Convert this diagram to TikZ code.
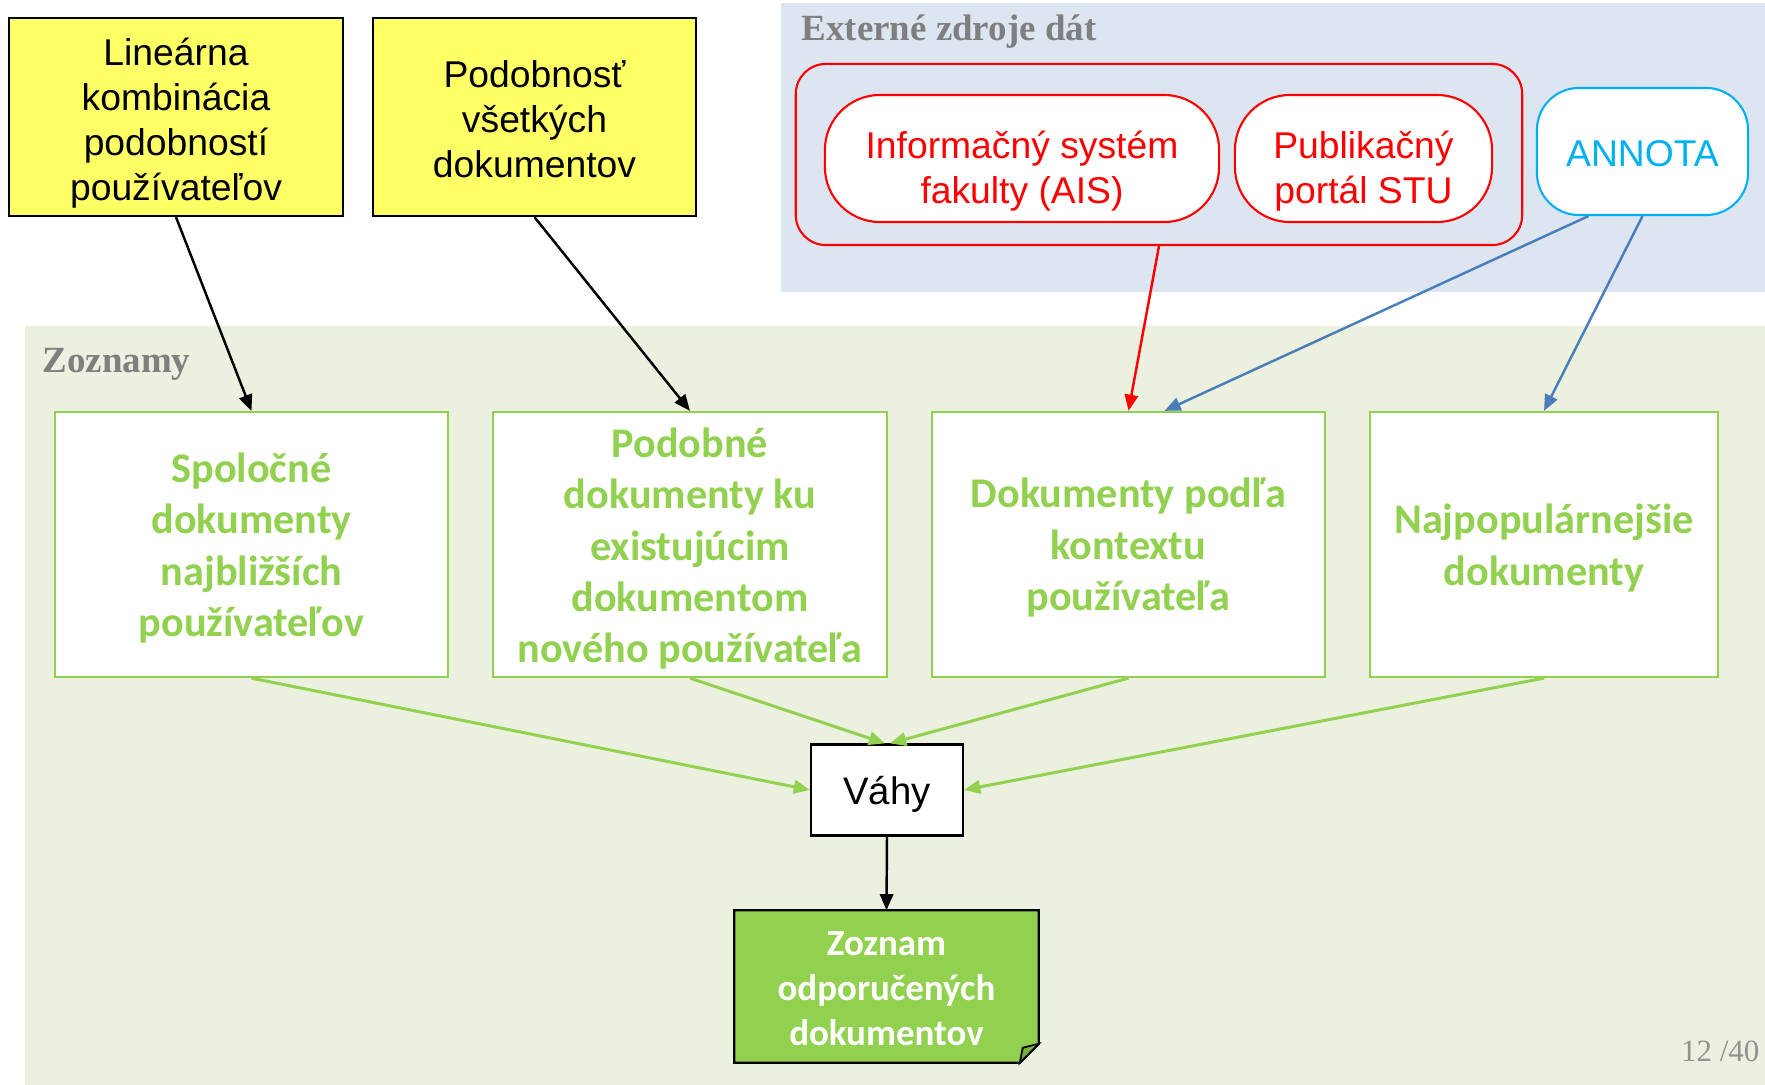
\documentclass[tikz,border=0pt]{standalone}
\usepackage{fontspec}
\setmainfont{Liberation Sans}
\newfontfamily\calibri{Carlito}
\newfontfamily\timesfont{Liberation Serif}
\usepackage{xcolor}
\definecolor{lemon}{HTML}{FFFF66}
\definecolor{leaf}{HTML}{92D050}
\definecolor{leafdark}{HTML}{74B03A}
\definecolor{listbg}{HTML}{EBF0DF}
\definecolor{extbg}{HTML}{DCE5F0}
\definecolor{sky}{HTML}{00B0F0}
\definecolor{steel}{HTML}{4A7EBB}
\definecolor{slate}{HTML}{7F7F7F}
\usepackage{tikz}
\usetikzlibrary{arrows.meta, positioning, calc}
% lines of a box, set a little lower than the centre
\newcommand{\boxtext}[2]{\raisebox{-#1}[\height][\depth]{\begin{tabular}{@{}c@{}}#2\end{tabular}}}

\begin{document}
\begin{tikzpicture}[x=0.01cm, y=-0.01cm,
  tip/.style={-{Triangle[length=4.6pt,width=3.8pt]}},
  yellowbox/.style={draw=black, line width=0.6pt, fill=lemon,
    font=\fontsize{10.6}{12.8}\selectfont, minimum height=1.98cm, inner sep=0pt},
  pill/.style={draw=red, line width=0.6pt, fill=white, text=red,
    font=\fontsize{10.6}{12.8}\selectfont, minimum height=1.27cm, rounded corners=0.55cm, inner sep=0pt},
  listbox/.style={draw=leaf, line width=0.6pt, fill=white, text=leaf,
    font=\calibri\bfseries\fontsize{12}{14.6}\selectfont, minimum height=2.65cm, inner sep=0pt},
  region/.style={font=\timesfont\bfseries\fontsize{10.5}{12}\selectfont, text=slate, anchor=west, inner sep=0pt}
]
  \useasboundingbox (0,0) rectangle (1765,1085);
  \fill[white] (0,0) rectangle (1765,1085);

  % --- Externe zdroje (top right) ---
  \fill[extbg] (781,3) rectangle (1765,292);
  \node[region] (extlabel) at (801,32) {Externé zdroje dát};
  \node[draw=red, line width=0.6pt, rounded corners=0.3cm, minimum width=7.26cm, minimum height=1.81cm] (fei) at (1159,154.5) {};
  \node[pill, minimum width=3.94cm] (ais) at (1022,158.5) {\boxtext{3.8pt}{Informačný systém\\fakulty (AIS)}};
  \node[pill, minimum width=2.57cm] (stu) at (1363.5,158.5) {\boxtext{3.8pt}{Publikačný\\portál STU}};
  \node[pill, draw=sky, text=sky, minimum width=2.11cm, rounded corners=0.42cm] (annota) at (1642.5,151.5) {\boxtext{1.8pt}{ANNOTA}};

  % --- Zoznamy (bottom) ---
  \fill[listbg] (25,326) rectangle (1765,1085);
  \node[region] (listlabel) at (42,364) {Zoznamy};

  % Podobnosti (yellow)
  \node[yellowbox, minimum width=3.34cm] (lin) at (176,117) {\boxtext{1.9pt}{Lineárna\\kombinácia\\podobností\\používateľov}};
  \node[yellowbox, minimum width=3.23cm] (pod) at (534.5,117) {\boxtext{1.9pt}{Podobnosť\\všetkých\\dokumentov}};

  % Zoznamy dokumentov
  \node[listbox, minimum width=3.93cm] (b1) at (251.5,544.5) {\boxtext{1.3pt}{Spoločné\\dokumenty\\najbližších\\používateľov}};
  \node[listbox, minimum width=3.94cm] (b2) at (690,544.5) {\boxtext{1.5pt}{Podobné\\dokumenty ku\\existujúcim\\dokumentom\\nového používateľa}};
  \node[listbox, minimum width=3.93cm] (b3) at (1128.5,544.5) {\boxtext{1.3pt}{Dokumenty podľa\\kontextu\\používateľa}};
  \node[listbox, minimum width=3.48cm] (b4) at (1544,544.5) {\boxtext{1.3pt}{Najpopulárnejšie\\dokumenty}};

  % Vahy and result
  \node[draw=black, line width=0.6pt, fill=white, font=\fontsize{10.9}{12.8}\selectfont,
    minimum width=1.52cm, minimum height=0.91cm, inner sep=0pt] (vahy) at (887,790) {\boxtext{1.7pt}{Váhy}};
  \node[fill=leaf, text=white, font=\calibri\bfseries\fontsize{10.5}{12.8}\selectfont,
    minimum width=3.03cm, minimum height=1.51cm, inner sep=0pt] (zoz) at (886.5,986.5) {\boxtext{1.5pt}{Zoznam\\odporučených\\dokumentov}};
  % folded corner
  \fill[listbg] ([xshift=-0.19cm]zoz.south east) -- (zoz.south east) -- ([yshift=0.19cm]zoz.south east) -- cycle;
  \draw[line width=0.6pt] (zoz.north west) -- (zoz.north east) -- ([yshift=0.19cm]zoz.south east)
    -- ([xshift=-0.19cm]zoz.south east) -- (zoz.south west) -- cycle;
  \filldraw[fill=leafdark, line width=0.5pt] ([xshift=-0.19cm]zoz.south east) -- ([xshift=-0.16cm,yshift=0.15cm]zoz.south east)
    -- ([yshift=0.19cm]zoz.south east) -- cycle;

  % --- connectors ---
  \draw[tip, line width=0.7pt] (lin.south) -- (b1.north);
  \draw[tip, line width=0.7pt] (pod.south) -- (b2.north);
  \draw[tip, line width=0.7pt, red] (fei.south) -- (b3.north);
  \draw[tip, line width=0.7pt, steel] ([xshift=-0.54cm]annota.south) -- ([xshift=0.36cm]b3.north);
  \draw[tip, line width=0.7pt, steel] (annota.south) -- (b4.north);

  \draw[tip, line width=0.85pt, leaf] (b1.south) -- (vahy.west);
  \draw[tip, line width=0.85pt, leaf] (b2.south) -- ([xshift=-0.02cm]vahy.north);
  \draw[tip, line width=0.85pt, leaf] (b3.south) -- ([xshift=0.03cm]vahy.north);
  \draw[tip, line width=0.85pt, leaf] (b4.south) -- (vahy.east);
  \draw[tip, line width=0.7pt] (vahy.south) -- (zoz.north);

  \node[font=\timesfont\fontsize{8.8}{10}\selectfont, text=slate!85, anchor=east, inner sep=0pt] (page) at (1760,1051) {12 /40};
\end{tikzpicture}
\end{document}
